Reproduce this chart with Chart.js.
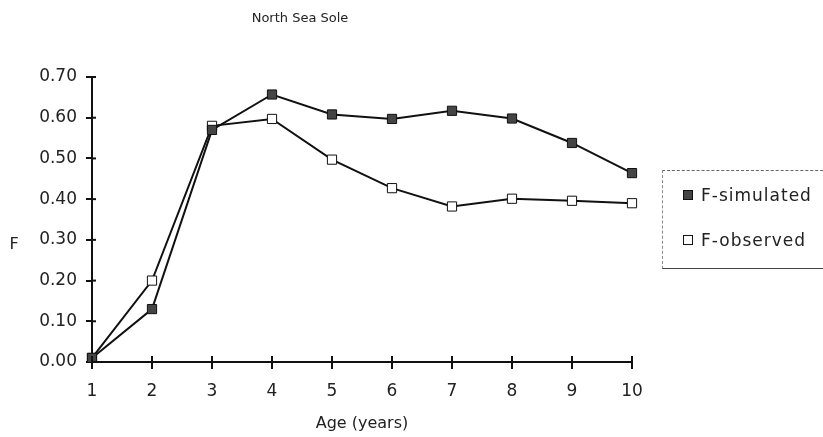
<!DOCTYPE html>
<html>
<head>
<meta charset="utf-8">
<script src="https://cdn.jsdelivr.net/npm/chart.js@4/dist/chart.umd.min.js"></script>
<style>
  html, body { margin: 0; padding: 0; background: #fff; }
  #wrap { position: relative; width: 823px; height: 437px; overflow: hidden; }
  #legend { position: absolute; left: 662px; top: 170px; width: 170px; height: 97px;
    border-top: 1px dashed #666; border-left: 1px dashed #888; border-bottom: 1px solid #444;
    font-family: "DejaVu Sans", sans-serif; font-size: 17px; letter-spacing: 1px; color: #222; }
  .item { position: absolute; left: 20px; display: flex; align-items: center; }
  .sw { width: 8px; height: 8px; border: 1px solid #111; margin-right: 8px; }
</style>
</head>
<body>
<div id="wrap">
  <canvas id="c" width="823" height="437"></canvas>
  <div id="legend">
    <div class="item" style="top:14px"><span class="sw" style="background:#444"></span>F-simulated</div>
    <div class="item" style="top:59px"><span class="sw" style="background:#fff"></span>F-observed</div>
  </div>
</div>
<script>
const ages = ["1","2","3","4","5","6","7","8","9","10"];
const fSimulated = [0.01, 0.13, 0.57, 0.657, 0.608, 0.597, 0.617, 0.598, 0.538, 0.464];
const fObserved  = [0.01, 0.20, 0.58, 0.597, 0.497, 0.427, 0.382, 0.401, 0.396, 0.390];
const yTicks = [0, 0.1, 0.2, 0.3, 0.4, 0.5, 0.6, 0.7];
const chartTitle = 'North Sea Sole';
const yTitle = 'F';

const FONT = "'DejaVu Sans', sans-serif";

const extras = {
  id: 'extras',
  beforeInit(chart) { chart.ctx.letterSpacing = '0.3px'; },
  afterDraw(chart) {
    const ctx = chart.ctx, x = chart.scales.x, y = chart.scales.y;
    ctx.save();
    ctx.strokeStyle = '#111';
    ctx.lineWidth = 2;
    yTicks.forEach(v => {
      const py = y.getPixelForValue(v);
      ctx.beginPath(); ctx.moveTo(x.left, py); ctx.lineTo(x.left + 4, py); ctx.stroke();
    });
    ages.forEach((a, i) => {
      const px = x.getPixelForValue(i);
      ctx.beginPath(); ctx.moveTo(px, y.bottom); ctx.lineTo(px, y.bottom - 6); ctx.stroke();
    });
    ctx.fillStyle = '#222';
    ctx.textAlign = 'center';
    ctx.textBaseline = 'middle';
    ctx.letterSpacing = '0px';
    ctx.font = "13px " + FONT;
    ctx.fillText(chartTitle, 300, 19);
    ctx.font = "16px " + FONT;
    ctx.fillText(yTitle, 14, 245);
    ctx.restore();
  }
};

new Chart(document.getElementById('c'), {
  type: 'line',
  data: {
    labels: ages,
    datasets: [
      { label: 'F-simulated', data: fSimulated, borderColor: '#111', borderWidth: 2,
        backgroundColor: '#444', pointStyle: 'rect', pointRadius: 6.5, pointBorderColor: '#111',
        pointBorderWidth: 1, tension: 0 },
      { label: 'F-observed', data: fObserved, borderColor: '#111', borderWidth: 2,
        backgroundColor: '#fff', pointStyle: 'rect', pointRadius: 6.5, pointBorderColor: '#111',
        pointBorderWidth: 1, tension: 0 }
    ]
  },
  options: {
    responsive: false,
    animation: false,
    layout: { padding: { left: 0, right: 191, top: 77, bottom: 0 } },
    plugins: {
      legend: { display: false },
      tooltip: { enabled: false },
      title: { display: false }
    },
    scales: {
      x: {
        type: 'category', offset: false,
        grid: { display: true, drawOnChartArea: false, color: '#111', lineWidth: 2, tickLength: 7 },
        border: { display: true, color: '#111', width: 2 },
        ticks: { color: '#222', font: { family: FONT, size: 17 }, padding: 12, maxRotation: 0 },
        title: { display: true, text: 'Age (years)', color: '#222',
          font: { family: FONT, size: 16 }, padding: { top: 2, bottom: 4 } },
        afterFit(s) { s.height = 75; }
      },
      y: {
        min: 0, max: 0.7,
        afterBuildTicks(s) { s.ticks = yTicks.map(v => ({ value: v })); },
        grid: { display: true, drawOnChartArea: false, color: '#111', lineWidth: 2, tickLength: 6 },
        border: { display: true, color: '#111', width: 2 },
        ticks: { color: '#222', font: { family: FONT, size: 17 }, padding: 9,
          callback: v => v.toFixed(2) },
        title: { display: false },
        afterFit(s) { s.width = 92; }
      }
    }
  },
  plugins: [extras]
});
</script>
</body>
</html>
